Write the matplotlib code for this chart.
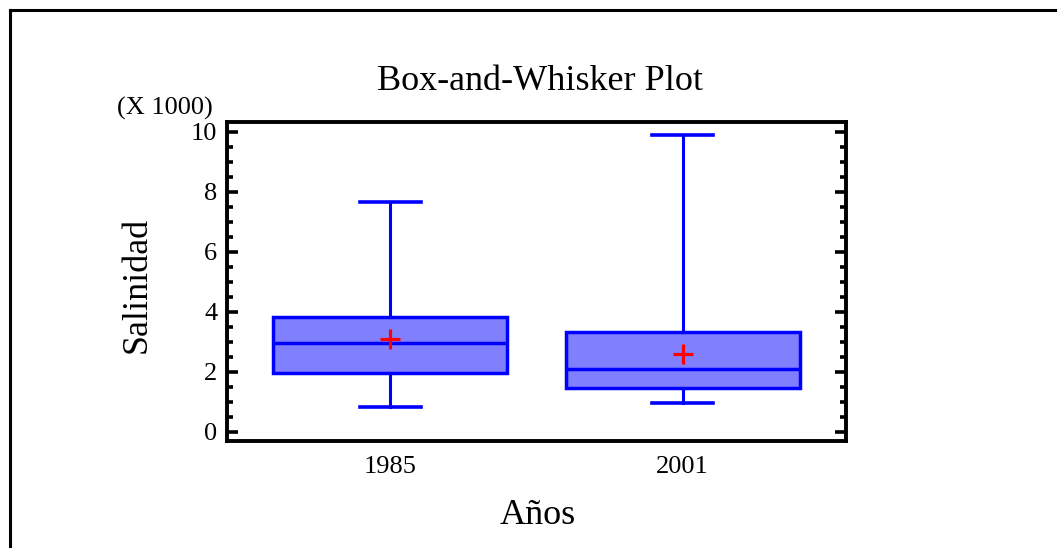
import numpy as np
import matplotlib
matplotlib.use("Agg")
import matplotlib.pyplot as plt
from matplotlib.lines import Line2D
from matplotlib.ticker import MultipleLocator, FuncFormatter

# datos (salinidad)
years = ['1985', '2001']
whislo = [840, 970]
q1 = [1970, 1450]
med = [2950, 2090]
q3 = [3820, 3320]
whishi = [7660, 9880]
means = [3080, 2590]

plt.rcParams['font.family'] = ['Liberation Serif', 'DejaVu Serif']

W, H = 1057, 548
fig = plt.figure(figsize=(W / 100, H / 100), dpi=100)
ax = fig.add_axes([227 / W, 1 - 441 / H, (846 - 227) / W, (441 - 122) / H])

stats = []
for i in range(len(years)):
    stats.append({'label': years[i], 'whislo': whislo[i], 'q1': q1[i], 'med': med[i],
                  'q3': q3[i], 'whishi': whishi[i], 'mean': means[i]})

blue = '#0000FF'
ax.bxp(stats, positions=[1, 2], widths=0.80, capwidths=0.21, showfliers=False,
       showmeans=True, patch_artist=True,
       boxprops=dict(facecolor='#8080FF', edgecolor=blue, linewidth=2.5),
       medianprops=dict(color=blue, linewidth=2.5),
       whiskerprops=dict(color=blue, linewidth=2.2),
       capprops=dict(color=blue, linewidth=2.6),
       meanprops=dict(marker='+', markeredgecolor='red', markersize=15, markeredgewidth=2.3))

ax.set_xlim(0.4415, 2.5585)
ax.set_ylim(-300, 10320)
ax.yaxis.set_major_locator(MultipleLocator(2000))
ax.yaxis.set_minor_locator(MultipleLocator(500))
ax.yaxis.set_major_formatter(FuncFormatter(lambda v, p: f'{v / 1000:g}'))

for s in ax.spines.values():
    s.set_linewidth(2.8)
ax.tick_params(axis='y', which='both', direction='in', right=True, width=2.6, labelsize=19, pad=7)
ax.tick_params(axis='y', which='major', length=8)
ax.tick_params(axis='y', which='minor', length=4.5)
ax.tick_params(axis='x', length=0, labelsize=19, pad=11)

fig.text(540 / W, 1 - 81 / H, 'Box-and-Whisker Plot', ha='center', va='center', fontsize=26)
fig.text(165 / W, 1 - 108 / H, '(X 1000)', ha='center', va='center', fontsize=19)
fig.text(137 / W, 1 - 285 / H, 'Salinidad', ha='center', va='center', rotation=90, fontsize=26)
fig.text(538 / W, 1 - 515 / H, 'Años', ha='center', va='center', fontsize=26)

# marco exterior
fig.add_artist(Line2D([10 / W, 10 / W], [0, 1 - 10 / H], color='black', linewidth=2.2))
fig.add_artist(Line2D([10 / W, 1], [1 - 10 / H, 1 - 10 / H], color='black', linewidth=2.2))

fig.savefig('out.png', dpi=100)
